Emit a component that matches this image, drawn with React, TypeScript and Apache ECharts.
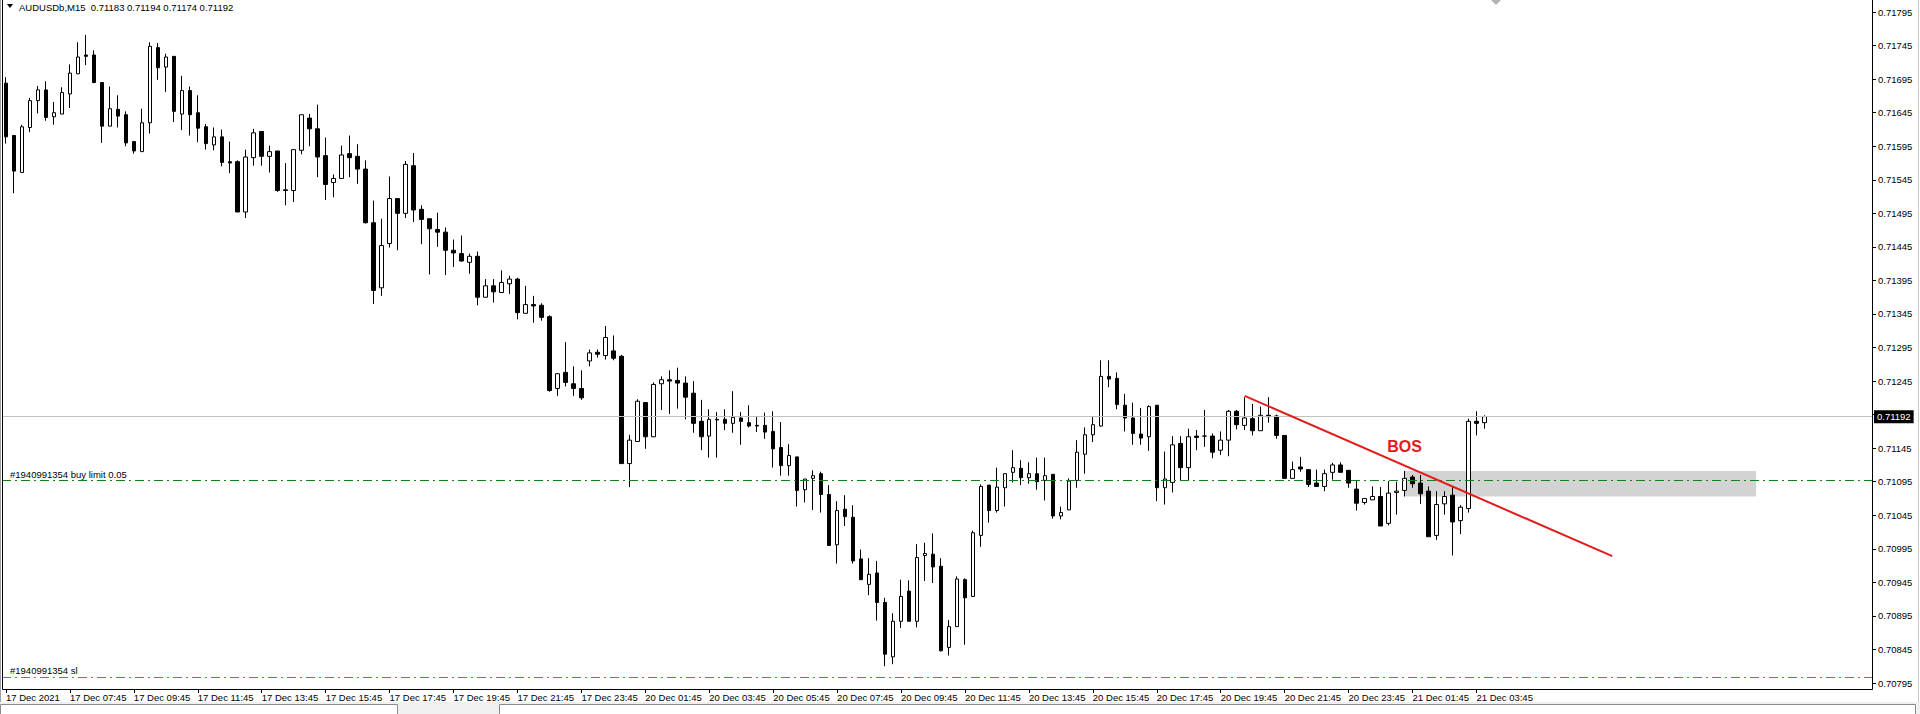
import React, { useEffect, useRef } from 'react';
import * as echarts from 'echarts';

const FONT = "'Liberation Sans', Arial, sans-serif";
const FS = 9.5;

const symbolName = 'AUDUSDb,M15';

// M15 bars, 17 Dec 2021 05:45 -> 21 Dec 2021 04:00 (weekend skipped)
const open = [
  0.71689, 0.71611, 0.71556, 0.71623, 0.71663, 0.71679, 0.71639, 0.71643, 0.71673, 0.71703,
  0.71731, 0.71731, 0.71690, 0.71625, 0.71650, 0.71642, 0.71602, 0.71587, 0.71630, 0.71742,
  0.71713, 0.71729, 0.71643, 0.71678, 0.71645, 0.71624, 0.71597, 0.71609, 0.71572, 0.71572,
  0.71497, 0.71578, 0.71617, 0.71580, 0.71588, 0.71530, 0.71529, 0.71589, 0.71637, 0.71621,
  0.71581, 0.71541, 0.71547, 0.71584, 0.71580, 0.71561, 0.71481, 0.71384, 0.71450, 0.71517,
  0.71495, 0.71566, 0.71501, 0.71487, 0.71471, 0.71467, 0.71440, 0.71435, 0.71422, 0.71431,
  0.71370, 0.71387, 0.71377, 0.71390, 0.71397, 0.71346, 0.71359, 0.71358, 0.71341, 0.71234,
  0.71258, 0.71241, 0.71234, 0.71275, 0.71288, 0.71283, 0.71290, 0.71282, 0.71122, 0.71155,
  0.71213, 0.71162, 0.71241, 0.71247, 0.71246, 0.71242, 0.71227, 0.71185, 0.71163, 0.71187,
  0.71188, 0.71182, 0.71190, 0.71183, 0.71179, 0.71179, 0.71170, 0.71146, 0.71119, 0.71132,
  0.71083, 0.71100, 0.71107, 0.71076, 0.71001, 0.71054, 0.71042, 0.70980, 0.70942, 0.70959,
  0.70915, 0.70834, 0.70887, 0.70932, 0.70887, 0.70985, 0.70987, 0.70969, 0.70848, 0.70879,
  0.70949, 0.70924, 0.71015, 0.71090, 0.71052, 0.71086, 0.71109, 0.71115, 0.71101, 0.71107,
  0.71097, 0.71106, 0.71044, 0.71053, 0.71097, 0.71136, 0.71165, 0.71178, 0.71252, 0.71249,
  0.71209, 0.71190, 0.71166, 0.71162, 0.71209, 0.71086, 0.71094, 0.71152, 0.71116, 0.71163,
  0.71163, 0.71163, 0.71142, 0.71157, 0.71200, 0.71179, 0.71189, 0.71171, 0.71194, 0.71193,
  0.71164, 0.71100, 0.71117, 0.71113, 0.71093, 0.71088, 0.71109, 0.71120, 0.71112, 0.71084,
  0.71064, 0.71068, 0.71073, 0.71033, 0.71079, 0.71082, 0.71102, 0.71093, 0.71081, 0.71015,
  0.71062, 0.71075, 0.71037, 0.71055, 0.71185, 0.71183,
];

const close = [
  0.71609, 0.71558, 0.71624, 0.71663, 0.71679, 0.71638, 0.71645, 0.71675, 0.71704, 0.71728,
  0.71729, 0.71690, 0.71625, 0.71651, 0.71640, 0.71600, 0.71588, 0.71630, 0.71744, 0.71712,
  0.71728, 0.71647, 0.71678, 0.71642, 0.71622, 0.71599, 0.71609, 0.71571, 0.71570, 0.71497,
  0.71579, 0.71615, 0.71580, 0.71587, 0.71529, 0.71529, 0.71590, 0.71642, 0.71621, 0.71579,
  0.71538, 0.71547, 0.71582, 0.71578, 0.71561, 0.71481, 0.71380, 0.71447, 0.71517, 0.71495,
  0.71568, 0.71500, 0.71486, 0.71472, 0.71467, 0.71440, 0.71436, 0.71424, 0.71431, 0.71370,
  0.71387, 0.71378, 0.71392, 0.71397, 0.71347, 0.71359, 0.71357, 0.71340, 0.71231, 0.71256,
  0.71243, 0.71234, 0.71220, 0.71287, 0.71285, 0.71310, 0.71279, 0.71122, 0.71157, 0.71215,
  0.71162, 0.71240, 0.71247, 0.71245, 0.71242, 0.71221, 0.71182, 0.71162, 0.71188, 0.71188,
  0.71182, 0.71191, 0.71185, 0.71178, 0.71178, 0.71169, 0.71144, 0.71119, 0.71134, 0.71082,
  0.71099, 0.71104, 0.71076, 0.71000, 0.71052, 0.71043, 0.70977, 0.70949, 0.70957, 0.70915,
  0.70838, 0.70887, 0.70924, 0.70887, 0.70982, 0.70988, 0.70968, 0.70843, 0.70879, 0.70950,
  0.70922, 0.71019, 0.71088, 0.71052, 0.71087, 0.71107, 0.71116, 0.71101, 0.71107, 0.71095,
  0.71104, 0.71044, 0.71049, 0.71096, 0.71139, 0.71165, 0.71180, 0.71252, 0.71248, 0.71210,
  0.71190, 0.71167, 0.71160, 0.71207, 0.71086, 0.71099, 0.71150, 0.71116, 0.71162, 0.71161,
  0.71163, 0.71139, 0.71157, 0.71200, 0.71180, 0.71190, 0.71171, 0.71194, 0.71192, 0.71164,
  0.71100, 0.71113, 0.71114, 0.71091, 0.71088, 0.71107, 0.71120, 0.71109, 0.71093, 0.71063,
  0.71070, 0.71073, 0.71029, 0.71078, 0.71081, 0.71100, 0.71092, 0.71077, 0.71013, 0.71061,
  0.71073, 0.71035, 0.71057, 0.71185, 0.71182, 0.71192,
];

const low = [
  0.71599, 0.71525, 0.71556, 0.71616, 0.71644, 0.71633, 0.71627, 0.71643, 0.71652, 0.71703,
  0.71716, 0.71689, 0.71600, 0.71625, 0.71623, 0.71595, 0.71584, 0.71587, 0.71614, 0.71694,
  0.71676, 0.71631, 0.71619, 0.71611, 0.71601, 0.71590, 0.71589, 0.71565, 0.71555, 0.71497,
  0.71488, 0.71566, 0.71566, 0.71556, 0.71527, 0.71507, 0.71512, 0.71583, 0.71595, 0.71549,
  0.71515, 0.71519, 0.71547, 0.71549, 0.71539, 0.71480, 0.71360, 0.71372, 0.71444, 0.71440,
  0.71488, 0.71482, 0.71449, 0.71404, 0.71445, 0.71403, 0.71415, 0.71423, 0.71405, 0.71358,
  0.71370, 0.71362, 0.71377, 0.71375, 0.71337, 0.71346, 0.71332, 0.71335, 0.71229, 0.71223,
  0.71237, 0.71223, 0.71217, 0.71267, 0.71280, 0.71277, 0.71276, 0.71122, 0.71087, 0.71155,
  0.71144, 0.71162, 0.71202, 0.71196, 0.71204, 0.71188, 0.71168, 0.71142, 0.71131, 0.71131,
  0.71172, 0.71168, 0.71150, 0.71176, 0.71169, 0.71159, 0.71116, 0.71104, 0.71104, 0.71058,
  0.71064, 0.71053, 0.71049, 0.71000, 0.70973, 0.71029, 0.70973, 0.70949, 0.70926, 0.70888,
  0.70820, 0.70823, 0.70877, 0.70887, 0.70878, 0.70947, 0.70944, 0.70842, 0.70836, 0.70879,
  0.70852, 0.70924, 0.70998, 0.71034, 0.71049, 0.71058, 0.71094, 0.71090, 0.71092, 0.71083,
  0.71067, 0.71040, 0.71039, 0.71053, 0.71086, 0.71107, 0.71154, 0.71177, 0.71236, 0.71203,
  0.71170, 0.71150, 0.71150, 0.71141, 0.71066, 0.71061, 0.71079, 0.71096, 0.71096, 0.71142,
  0.71147, 0.71130, 0.71135, 0.71133, 0.71173, 0.71172, 0.71164, 0.71171, 0.71183, 0.71159,
  0.71100, 0.71100, 0.71110, 0.71087, 0.71088, 0.71081, 0.71098, 0.71109, 0.71086, 0.71052,
  0.71061, 0.71068, 0.71029, 0.71030, 0.71046, 0.71073, 0.71086, 0.71062, 0.71013, 0.71008,
  0.71046, 0.70985, 0.71017, 0.71049, 0.71164, 0.71174,
];

const high = [
  0.71698, 0.71611, 0.71627, 0.71667, 0.71685, 0.71692, 0.71661, 0.71683, 0.71717, 0.71750,
  0.71761, 0.71738, 0.71690, 0.71684, 0.71671, 0.71647, 0.71602, 0.71651, 0.71750, 0.71749,
  0.71733, 0.71729, 0.71700, 0.71684, 0.71671, 0.71628, 0.71623, 0.71620, 0.71602, 0.71574,
  0.71590, 0.71621, 0.71617, 0.71596, 0.71588, 0.71570, 0.71590, 0.71642, 0.71643, 0.71657,
  0.71608, 0.71553, 0.71596, 0.71611, 0.71598, 0.71574, 0.71514, 0.71487, 0.71550, 0.71517,
  0.71573, 0.71585, 0.71507, 0.71487, 0.71496, 0.71474, 0.71456, 0.71462, 0.71435, 0.71438,
  0.71397, 0.71397, 0.71410, 0.71402, 0.71399, 0.71387, 0.71372, 0.71361, 0.71343, 0.71257,
  0.71303, 0.71267, 0.71261, 0.71292, 0.71292, 0.71327, 0.71313, 0.71284, 0.71165, 0.71218,
  0.71213, 0.71243, 0.71252, 0.71261, 0.71265, 0.71252, 0.71245, 0.71217, 0.71203, 0.71199,
  0.71203, 0.71230, 0.71199, 0.71209, 0.71192, 0.71198, 0.71200, 0.71184, 0.71151, 0.71132,
  0.71099, 0.71112, 0.71110, 0.71090, 0.71066, 0.71075, 0.71060, 0.70994, 0.70981, 0.70977,
  0.70922, 0.70899, 0.70949, 0.70948, 0.71002, 0.71004, 0.71018, 0.70981, 0.70889, 0.70954,
  0.70951, 0.71022, 0.71091, 0.71090, 0.71116, 0.71107, 0.71142, 0.71127, 0.71124, 0.71131,
  0.71131, 0.71106, 0.71058, 0.71100, 0.71157, 0.71176, 0.71192, 0.71276, 0.71276, 0.71258,
  0.71226, 0.71213, 0.71205, 0.71209, 0.71209, 0.71140, 0.71163, 0.71163, 0.71174, 0.71172,
  0.71202, 0.71167, 0.71170, 0.71202, 0.71202, 0.71221, 0.71211, 0.71207, 0.71221, 0.71195,
  0.71164, 0.71125, 0.71132, 0.71113, 0.71113, 0.71113, 0.71123, 0.71124, 0.71112, 0.71097,
  0.71070, 0.71088, 0.71087, 0.71096, 0.71095, 0.71111, 0.71105, 0.71105, 0.71088, 0.71081,
  0.71081, 0.71087, 0.71060, 0.71189, 0.71200, 0.71194,
];

// one label every 8 bars (2 hours), starting at the first bar
const xTickLabels = [
  '17 Dec 2021', '17 Dec 07:45', '17 Dec 09:45', '17 Dec 11:45', '17 Dec 13:45', '17 Dec 15:45',
  '17 Dec 17:45', '17 Dec 19:45', '17 Dec 21:45', '17 Dec 23:45', '20 Dec 01:45', '20 Dec 03:45',
  '20 Dec 05:45', '20 Dec 07:45', '20 Dec 09:45', '20 Dec 11:45', '20 Dec 13:45', '20 Dec 15:45',
  '20 Dec 17:45', '20 Dec 19:45', '20 Dec 21:45', '20 Dec 23:45', '21 Dec 01:45', '21 Dec 03:45',
];
const LABEL_EVERY = 8;
const TOTAL_SLOTS = 234; // bars + empty chart shift on the right

const priceMin = 0.70795;
const priceMax = 0.71813;
const priceStep = 0.0005;

const currentPrice = 0.71192;
const buyLimitPrice = 0.71097;
const stopLossPrice = 0.70804;
const buyLimitText = '#1940991354 buy limit 0.05';
const stopLossText = '#1940991354 sl';

// trend line (bar index, price)
const trendStart = [155, 0.71223];
const trendEnd = [201, 0.70984];
// zone rectangle
const zoneFrom = [175, 0.71111];
const zoneTo = [219, 0.71073];
// BOS label
const bosPoint = [175, 0.71147];

export default function App() {
  const ref = useRef<HTMLDivElement>(null);

  useEffect(() => {
    document.body.style.margin = '0';
    const el = ref.current as HTMLDivElement;
    const chart = echarts.init(el, undefined, { renderer: 'svg' });

    const slots = Array.from({ length: TOTAL_SLOTS }, (_, i) => String(i));
    const candles = open.map((o, i) => [o, close[i], low[i], high[i]]);
    const lastLabelIdx = (xTickLabels.length - 1) * LABEL_EVERY;
    const showIdx = (i: number) => i % LABEL_EVERY === 0 && i <= lastLabelIdx;

    const option: any = {
      animation: false,
      backgroundColor: '#ffffff',
      grid: { left: 2, right: 48, top: 0, bottom: 31, containLabel: false },
      xAxis: {
        type: 'category',
        data: slots,
        boundaryGap: true,
        offset: 6,
        axisLine: { show: false },
        axisTick: {
          show: true,
          alignWithLabel: true,
          length: 4,
          interval: (i: number) => showIdx(i),
          lineStyle: { color: '#000', width: 1 },
        },
        axisLabel: {
          interval: (i: number) => showIdx(i),
          align: 'left',
          margin: 3,
          fontSize: FS,
          fontFamily: FONT,
          color: '#000',
          formatter: (_v: string, i: number) => (showIdx(i) ? xTickLabels[i / LABEL_EVERY] : ''),
        },
        splitLine: { show: false },
      },
      yAxis: {
        type: 'value',
        position: 'right',
        min: priceMin,
        max: priceMax,
        interval: priceStep,
        axisLine: { show: false },
        axisTick: { show: true, length: 4, lineStyle: { color: '#000', width: 1 } },
        axisLabel: {
          margin: 6,
          fontSize: FS,
          fontFamily: FONT,
          color: '#000',
          showMaxLabel: false,
          formatter: (v: number) => (Math.abs(v - currentPrice) < 0.0001 ? '' : v.toFixed(5)),
        },
        splitLine: { show: false },
      },
      series: [
        {
          type: 'candlestick',
          data: candles,
          barWidth: 4,
          itemStyle: {
            color: '#ffffff',
            color0: '#000000',
            borderColor: '#000000',
            borderColor0: '#000000',
            borderWidth: 1,
          },
          markArea: {
            silent: true,
            itemStyle: { color: '#d3d3d3' },
            data: [[{ coord: zoneFrom }, { coord: zoneTo }]],
          },
          markLine: {
            silent: true,
            symbol: ['none', 'none'],
            precision: 5,
            animation: false,
            data: [
              {
                yAxis: currentPrice,
                lineStyle: { color: '#c0c0c0', type: 'solid', width: 1 },
                label: {
                  show: true,
                  position: 'end',
                  distance: 2,
                  formatter: currentPrice.toFixed(5),
                  backgroundColor: '#000',
                  color: '#fff',
                  padding: [2, 3, 1, 3],
                  fontSize: FS,
                  fontFamily: FONT,
                },
              },
              {
                yAxis: buyLimitPrice,
                lineStyle: { color: '#15801a', type: [9, 4, 2, 4], width: 1 },
                label: { show: false },
              },
              {
                yAxis: stopLossPrice,
                lineStyle: { color: '#e2502a', type: [9, 4, 2, 4], width: 1 },
                label: { show: false },
              },
              [
                { coord: trendStart, lineStyle: { color: '#e31b1b', width: 2, type: 'solid' }, label: { show: false } },
                { coord: trendEnd, lineStyle: { color: '#e31b1b', width: 2, type: 'solid' }, label: { show: false } },
              ],
            ],
          },
          markPoint: {
            silent: true,
            data: [
              {
                coord: bosPoint,
                symbol: 'rect',
                symbolSize: 1,
                itemStyle: { color: 'rgba(0,0,0,0)' },
                label: {
                  show: true,
                  position: 'inside',
                  formatter: 'BOS',
                  color: '#e31b1b',
                  fontWeight: 'bold',
                  fontSize: 16,
                  fontFamily: FONT,
                },
              },
            ],
          },
        },
      ],
    };

    chart.setOption(option);

    const yPx = (v: number) => chart.convertToPixel({ yAxisIndex: 0 }, v) as number;
    const last = open.length - 1;
    const title = `${symbolName}  ${open[last].toFixed(5)} ${high[last].toFixed(5)} ${low[last].toFixed(5)} ${close[last].toFixed(5)}`;
    const txt = (x: number, y: number, text: string, va: string) => ({
      type: 'text',
      x,
      y,
      z: 100,
      silent: true,
      style: {
        text,
        fill: '#000',
        font: `${FS}px ${FONT}`,
        textAlign: 'left',
        align: 'left',
        textVerticalAlign: va,
        verticalAlign: va,
      },
    });
    const ln = (x1: number, y1: number, x2: number, y2: number, stroke: string) => ({
      type: 'line',
      z: 100,
      silent: true,
      shape: { x1, y1, x2, y2 },
      style: { stroke, lineWidth: 1 },
    });

    chart.setOption({
      graphic: {
        elements: [
          // bottom tab strip
          { type: 'rect', z: 90, silent: true, shape: { x: 0, y: 702, width: 1920, height: 12 }, style: { fill: '#f0f0f0' } },
          { type: 'rect', z: 91, silent: true, shape: { x: 0.5, y: 704.5, width: 397, height: 12 }, style: { fill: '#ffffff', stroke: '#8c8c8c', lineWidth: 1 } },
          { type: 'rect', z: 91, silent: true, shape: { x: 499.5, y: 704.5, width: 1416, height: 12 }, style: { fill: '#ffffff', stroke: '#8c8c8c', lineWidth: 1 } },
          // frame
          ln(0.5, 0, 0.5, 702, '#a0a0a0'),
          ln(2.5, 0, 2.5, 689.5, '#000'),
          ln(1872.5, 0, 1872.5, 689.5, '#000'),
          ln(2.5, 689.5, 1872.5, 689.5, '#000'),
          ln(1918.5, 0, 1918.5, 702, '#c8c8c8'),
          // chart shift marker
          { type: 'polygon', z: 100, silent: true, shape: { points: [[1491, 0], [1501, 0], [1496, 5]] }, style: { fill: '#b4b4b4' } },
          // title
          { type: 'polygon', z: 100, silent: true, shape: { points: [[7, 4], [13, 4], [10, 8]] }, style: { fill: '#000' } },
          txt(19, 7, title, 'middle'),
          // order labels
          txt(10, yPx(buyLimitPrice) - 1, buyLimitText, 'bottom'),
          txt(10, yPx(stopLossPrice) - 1, stopLossText, 'bottom'),
        ],
      },
    });

    return () => chart.dispose();
  }, []);

  return (
    <div
      ref={ref}
      style={{ position: 'fixed', left: 0, top: 0, width: 1920, height: 714, background: '#fff' }}
    />
  );
}
